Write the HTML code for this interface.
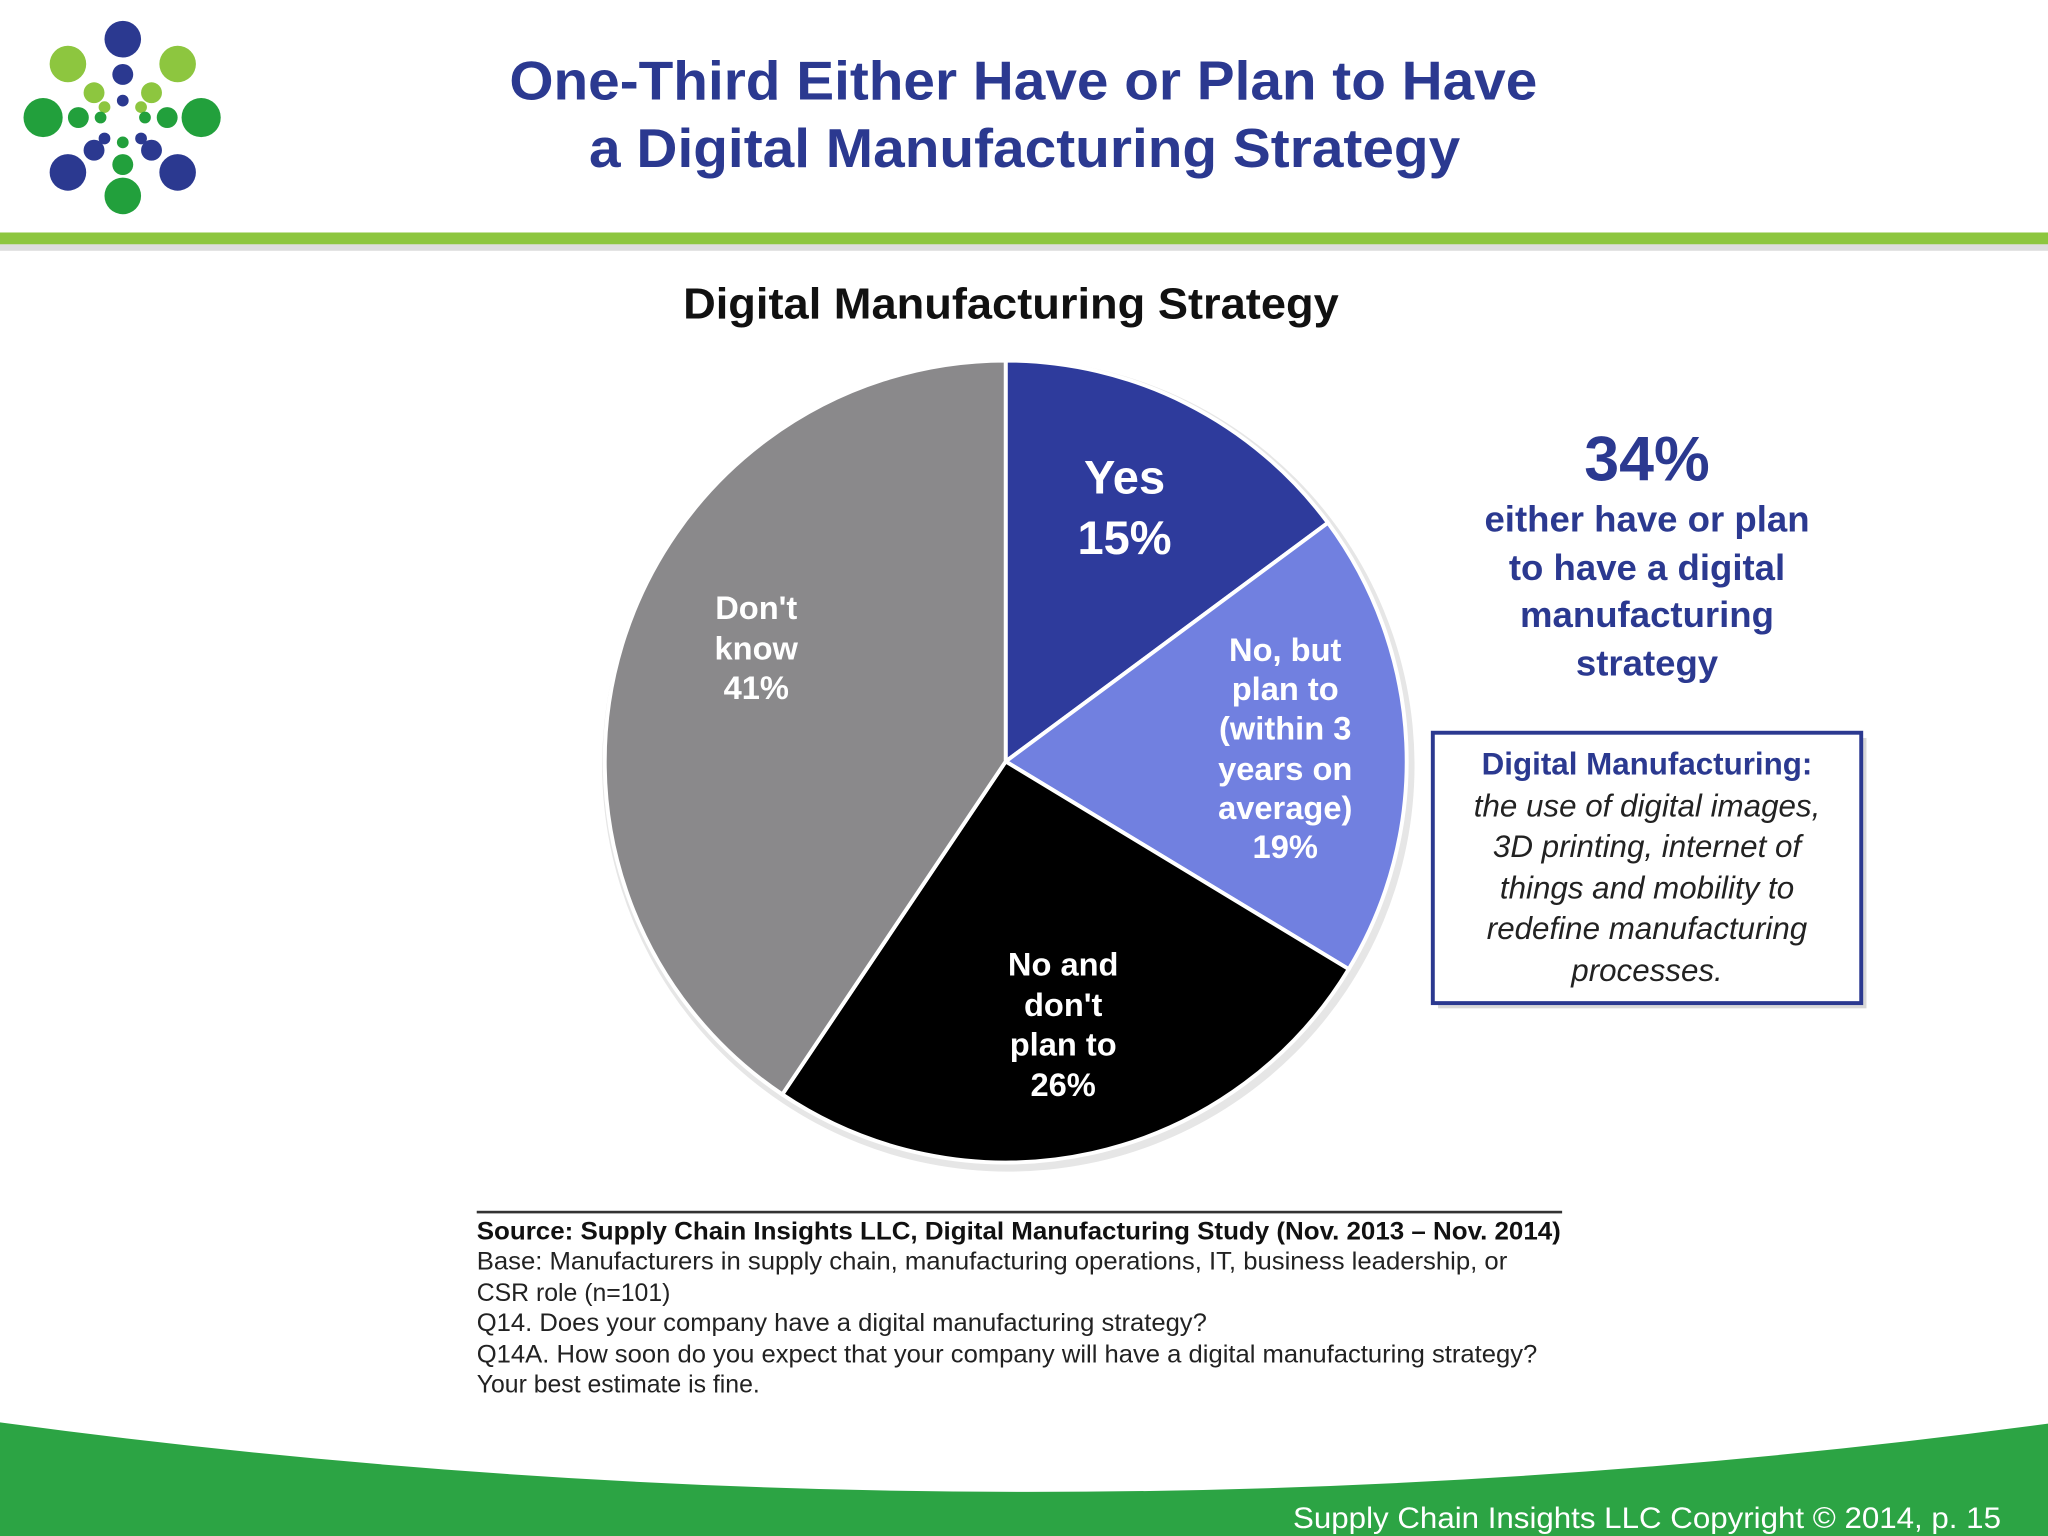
<!DOCTYPE html>
<html><head><meta charset="utf-8"><style>
html,body{margin:0;padding:0;background:#fff;width:2048px;height:1536px;overflow:hidden}
svg{display:block}
text{font-family:"Liberation Sans",sans-serif}
</style></head><body>
<svg width="2048" height="1536" viewBox="0 0 1568 1176">
<g>
 <circle cx="94" cy="30" r="14" fill="#2b3990"/><circle cx="94" cy="57" r="8" fill="#2b3990"/><circle cx="94" cy="77" r="4.5" fill="#2b3990"/>
 <circle cx="52" cy="49" r="14" fill="#8dc63f"/><circle cx="136" cy="49" r="14" fill="#8dc63f"/>
 <circle cx="72" cy="71" r="8" fill="#8dc63f"/><circle cx="116" cy="71" r="8" fill="#8dc63f"/>
 <circle cx="80" cy="82" r="4.5" fill="#8dc63f"/><circle cx="108" cy="82" r="4.5" fill="#8dc63f"/>
 <circle cx="33" cy="90" r="15" fill="#22a03c"/><circle cx="154" cy="90" r="15" fill="#22a03c"/>
 <circle cx="60" cy="90" r="8" fill="#22a03c"/><circle cx="128" cy="90" r="8" fill="#22a03c"/>
 <circle cx="77" cy="90" r="4.5" fill="#22a03c"/><circle cx="111" cy="90" r="4.5" fill="#22a03c"/>
 <circle cx="80" cy="106" r="4.5" fill="#2b3990"/><circle cx="108" cy="106" r="4.5" fill="#2b3990"/>
 <circle cx="94" cy="109" r="4.5" fill="#22a03c"/>
 <circle cx="72" cy="115" r="8" fill="#2b3990"/><circle cx="116" cy="115" r="8" fill="#2b3990"/>
 <circle cx="94" cy="126" r="8" fill="#22a03c"/>
 <circle cx="52" cy="132" r="14" fill="#2b3990"/><circle cx="136" cy="132" r="14" fill="#2b3990"/>
 <circle cx="94" cy="150" r="14" fill="#22a03c"/>
</g>
<text x="390" y="76" font-size="42" font-weight="bold" fill="#2b3990" textLength="787" lengthAdjust="spacingAndGlyphs">One-Third Either Have or Plan to Have</text>
<text x="451" y="128" font-size="42" font-weight="bold" fill="#2b3990" textLength="667" lengthAdjust="spacingAndGlyphs">a Digital Manufacturing Strategy</text>
<rect x="0" y="186" width="1568" height="6" fill="#ddd"/>
<rect x="0" y="178" width="1568" height="9" fill="#8dc63f"/>
<text x="523" y="244" font-size="33" font-weight="bold" fill="#111" textLength="502" lengthAdjust="spacingAndGlyphs">Digital Manufacturing Strategy</text>
<circle cx="772" cy="586" r="311" fill="#e6e6e6"/>
<g id="pie"></g>
<g font-weight="bold" text-anchor="middle" fill="#fff">
 <text x="861" y="378" font-size="36">Yes</text><text x="861" y="424" font-size="36">15%</text>
 <g font-size="25"><text x="984" y="506">No, but</text><text x="984" y="536">plan to</text><text x="984" y="566">(within 3</text><text x="984" y="597">years on</text><text x="984" y="627">average)</text><text x="984" y="657">19%</text></g>
 <g font-size="25"><text x="814" y="747">No and</text><text x="814" y="778">don't</text><text x="814" y="808">plan to</text><text x="814" y="839">26%</text></g>
 <g font-size="25"><text x="579" y="474">Don't</text><text x="579" y="505">know</text><text x="579" y="535">41%</text></g>
</g>
<g text-anchor="middle" font-weight="bold" fill="#2b3990">
 <text x="1261" y="368" font-size="48">34%</text>
 <g font-size="28"><text x="1261" y="407">either have or plan</text><text x="1261" y="444">to have a digital</text><text x="1261" y="480">manufacturing</text><text x="1261" y="517">strategy</text></g>
</g>
<rect x="1101" y="565" width="328" height="207" fill="#d8d8d8"/>
<rect x="1097" y="561" width="328" height="207" fill="#fff" stroke="#2b3990" stroke-width="3"/>
<g text-anchor="middle" font-size="24">
 <text x="1261" y="593" font-weight="bold" fill="#2b3990">Digital Manufacturing:</text>
 <g font-style="italic" fill="#222"><text x="1261" y="625">the use of digital images,</text><text x="1261" y="656">3D printing, internet of</text><text x="1261" y="688">things and mobility to</text><text x="1261" y="719">redefine manufacturing</text><text x="1261" y="751">processes.</text></g>
</g>
<rect x="365" y="927" width="831" height="2" fill="#333"/>
<g font-size="19" fill="#222">
 <text x="365" y="949" font-weight="bold" fill="#111" textLength="830" lengthAdjust="spacingAndGlyphs">Source:  Supply Chain Insights LLC, Digital Manufacturing Study (Nov. 2013 – Nov. 2014)</text>
 <text x="365" y="972" textLength="789" lengthAdjust="spacingAndGlyphs">Base: Manufacturers in supply chain, manufacturing operations, IT, business leadership, or</text>
 <text x="365" y="996">CSR role (n=101)</text>
 <text x="365" y="1019" textLength="559" lengthAdjust="spacingAndGlyphs">Q14. Does your company have a digital manufacturing strategy?</text>
 <text x="365" y="1043" textLength="812" lengthAdjust="spacingAndGlyphs">Q14A. How soon do you expect that your company will have a digital manufacturing strategy?</text>
 <text x="365" y="1066">Your best estimate is fine.</text>
</g>
<path d="M0,1089 Q784,1195 1568,1090 L1568,1176 L0,1176 Z" fill="#2ca444"/>
<text x="1532" y="1170" text-anchor="end" font-size="23" fill="#fff" textLength="542" lengthAdjust="spacingAndGlyphs">Supply Chain Insights LLC Copyright © 2014, p. 15</text>
</svg>
<script>
const categories = ["Yes","No, but plan to","No and don't plan to","Don't know"];
const values = [15, 19, 26, 41];
const colors = ["#2e3b9c","#7180e0","#000000","#8a898b"];
const g = document.getElementById('pie');
const cx = 770, cy = 583, r = 307;
const total = values.reduce((a,b)=>a+b,0);
let acc = 0;
const NS = "http://www.w3.org/2000/svg";
function pt(frac){const a = frac*2*Math.PI; return [cx + r*Math.sin(a), cy - r*Math.cos(a)];}
values.forEach((v,i)=>{
  const f0 = acc/total, f1 = (acc+v)/total; acc += v;
  const [x0,y0] = pt(f0), [x1,y1] = pt(f1);
  const large = (f1-f0) > 0.5 ? 1 : 0;
  const p = document.createElementNS(NS,'path');
  p.setAttribute('d',`M${cx},${cy} L${x0},${y0} A${r},${r} 0 ${large} 1 ${x1},${y1} Z`);
  p.setAttribute('fill',colors[i]);
  p.setAttribute('stroke','#fff');
  p.setAttribute('stroke-width','3');
  
  
  p.setAttribute('aria-label', categories[i]);
  g.appendChild(p);
});
</script>
</body></html>
